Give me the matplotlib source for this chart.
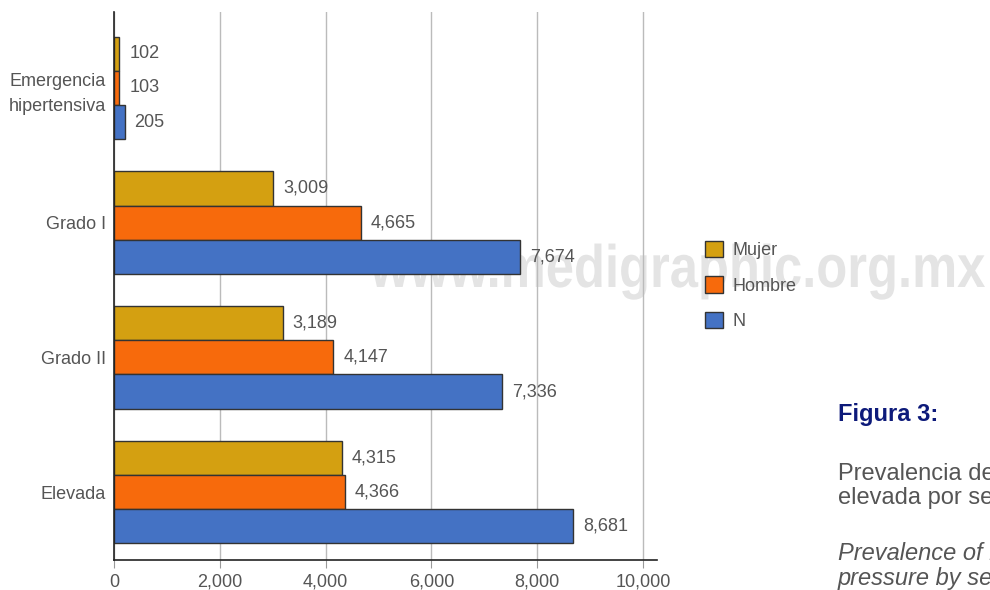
import matplotlib.pyplot as plt
from matplotlib.patches import Patch, PathPatch
from matplotlib.textpath import TextPath
from matplotlib.font_manager import FontProperties
from matplotlib.transforms import Affine2D, IdentityTransform

plt.rcParams['font.family'] = ['Liberation Sans', 'DejaVu Sans']

categories = ['Elevada', 'Grado II', 'Grado I', 'Emergencia\nhipertensiva']
mujer = [4315, 3189, 3009, 102]
hombre = [4366, 4147, 4665, 103]
total_n = [8681, 7336, 7674, 205]
series_names = ['Mujer', 'Hombre', 'N']
colors = ['#D4A011', '#F76A0C', '#4472C4']
xticks = [0, 2000, 4000, 6000, 8000, 10000]

txt = '#555555'

fig = plt.figure(figsize=(9.9, 5.9), dpi=100)
ax = fig.add_axes([0.1152, 0.0508, 0.5485, 0.9288])
ax.set_facecolor('none')

h = 0.254
pos = list(range(len(categories)))
for k, (vals, col) in enumerate(zip([mujer, hombre, total_n], colors)):
    off = (1 - k) * h
    ys = [p + off for p in pos]
    ax.barh(ys, vals, height=h, color=col, edgecolor='#333333', linewidth=1, zorder=3)
    for y, v in zip(ys, vals):
        ax.annotate(f'{v:,}', (v, y), xytext=(7, 0), textcoords='offset points',
                    va='center', ha='left', fontsize=13, color=txt, zorder=4)

ax.set_xlim(0, 10265)
ax.set_ylim(-0.504, 3.563)
ax.set_xticks(xticks)
ax.set_xticklabels([f'{t:,}' for t in xticks])
ax.set_yticks(pos)
ax.set_yticklabels(categories, linespacing=1.6)
ax.tick_params(axis='y', length=0, pad=6, labelsize=13, labelcolor=txt)
ax.tick_params(axis='x', length=6, color='#999999', pad=4, labelsize=13, labelcolor=txt)
ax.grid(axis='x', color='#bbbbbb', linewidth=1, zorder=1)
for s in ['top', 'right']:
    ax.spines[s].set_visible(False)
for s in ['left', 'bottom']:
    ax.spines[s].set_color('#222222')
    ax.spines[s].set_linewidth(1.2)
    ax.spines[s].set_zorder(5)

# watermark, squeezed like the narrow bold face of the original, behind the axes
wm = TextPath((0, 0), 'www.medigraphic.org.mx', size=1,
              prop=FontProperties(family='Liberation Sans', weight='bold'))
ext = wm.get_extents()
sx = 615 / ext.width
sy = 60
wm_tr = Affine2D().translate(-ext.x0, 0).scale(sx, sy).translate(370, 590 - 287)
fig.add_artist(PathPatch(wm_tr.transform_path(wm), facecolor='#e4e4e4',
                         edgecolor='none', transform=IdentityTransform(), zorder=-1))

handles = [Patch(facecolor=c, edgecolor='#333333', linewidth=1) for c in colors]
fig.legend(handles, series_names, loc='upper left', bbox_to_anchor=(0.7121, 0.5915),
           frameon=False, fontsize=13, handlelength=1.0, handleheight=1.0,
           labelspacing=0.95, handletextpad=0.55, borderpad=0, borderaxespad=0,
           labelcolor=txt)

fig.text(0.846, 0.297, 'Figura 3:', fontsize=17, fontweight='bold', color='#0d1a7a',
         ha='left', va='center')
fig.text(0.846, 0.176, 'Prevalencia de presión arterial\nelevada por sexo.', fontsize=17,
         color=txt, ha='left', va='center', linespacing=1.1)
fig.text(0.846, 0.081, 'Prevalence of high blood\npressure by sex.', fontsize=17,
         color=txt, ha='left', va='top', linespacing=1.1, style='italic')

fig.savefig('out.png', dpi=100)
